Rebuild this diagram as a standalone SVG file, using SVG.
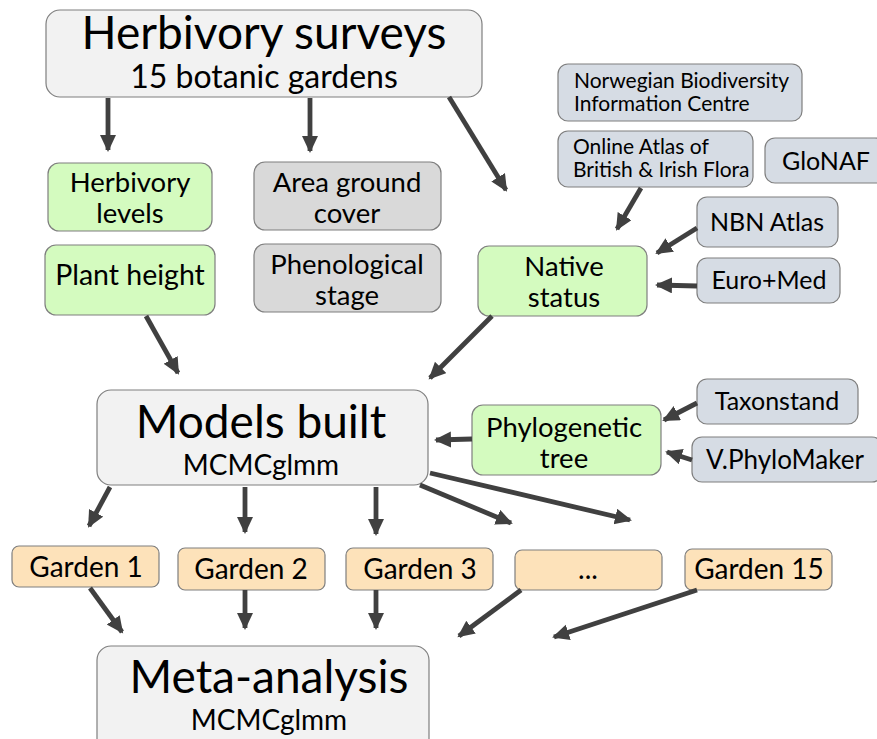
<svg xmlns="http://www.w3.org/2000/svg" width="877" height="739" viewBox="0 0 877 739">
<defs>
<marker id="ah" markerUnits="userSpaceOnUse" markerWidth="20" markerHeight="20" refX="15" refY="8" orient="auto">
<path d="M0,0 L17,8 L0,16 Z" fill="#404040"/>
</marker>
<style>
rect{stroke:#7f7f7f;stroke-width:1.2}
.main{fill:#f2f2f2}
.green{fill:#d4fbbf}
.gray{fill:#d9d9d9}
.blue{fill:#d6dce4}
.peach{fill:#fde2ba}
text{font-family:Lato,"Liberation Sans",sans-serif;fill:#000;text-anchor:middle}
.big{font-size:46px}
.sub{font-size:32px}
.n{font-size:27.5px}
.n1{font-size:28.5px}
.mc{font-size:28px}
.s{font-size:21px}
.m{font-size:25px}
.g{font-size:28px}
.l{text-anchor:start}
#connectors line{stroke:#404040;stroke-width:4.8;marker-end:url(#ah)}
</style>
</defs>
<g id="surveys"><rect class="main" x="46" y="10" width="436" height="87" rx="14"/>
<text class="big" x="264" y="48.5">Herbivory surveys</text>
<text class="sub" x="264" y="88">15 botanic gardens</text></g>
<g id="herblevels"><rect class="green" x="48" y="163" width="164" height="68" rx="11"/>
<text class="n" x="130" y="191.5">Herbivory</text><text class="n" x="130" y="222.5">levels</text></g>
<g id="plantheight"><rect class="green" x="45" y="245" width="170" height="70" rx="11"/>
<text class="n1" x="130" y="285">Plant height</text></g>
<g id="area"><rect class="gray" x="254" y="162" width="187" height="68" rx="11"/>
<text class="n" x="347" y="191.5">Area ground</text><text class="n" x="347" y="222.5">cover</text></g>
<g id="phenol"><rect class="gray" x="254" y="244" width="187" height="68" rx="11"/>
<text class="n" x="347" y="273.5">Phenological</text><text class="n" x="347" y="304.5">stage</text></g>
<g id="norwegian"><rect class="blue" x="558" y="64" width="244" height="57" rx="10"/>
<text class="s l" x="574" y="88">Norwegian Biodiversity</text><text class="s l" x="574" y="111">Information Centre</text></g>
<g id="online"><rect class="blue" x="558" y="131" width="195" height="56" rx="10"/>
<text class="s l" x="573" y="154">Online Atlas of</text><text class="s l" x="573" y="177">British &amp; Irish Flora</text></g>
<g id="glonaf"><rect class="blue" x="765" y="138" width="120" height="45" rx="10"/>
<text class="m" x="826" y="170">GloNAF</text></g>
<g id="nbn"><rect class="blue" x="697" y="197" width="141" height="50" rx="10"/>
<text class="m" x="767" y="231">NBN Atlas</text></g>
<g id="euromed"><rect class="blue" x="697" y="258" width="143" height="45" rx="10"/>
<text class="m" x="769" y="289">Euro+Med</text></g>
<g id="native"><rect class="green" x="478" y="246" width="169" height="70" rx="11"/>
<text class="n" x="564" y="275.5">Native</text><text class="n" x="564" y="306.5">status</text></g>
<g id="models"><rect class="main" x="97" y="390" width="331" height="95" rx="14"/>
<text class="big" x="261" y="438">Models built</text>
<text class="mc" x="261" y="475">MCMCglmm</text></g>
<g id="phylo"><rect class="green" x="472" y="405" width="189" height="70" rx="11"/>
<text class="n" x="564" y="437">Phylogenetic</text><text class="n" x="564" y="468">tree</text></g>
<g id="taxonstand"><rect class="blue" x="697" y="379" width="161" height="45" rx="10"/>
<text class="m" x="777" y="410">Taxonstand</text></g>
<g id="vphylo"><rect class="blue" x="692" y="437" width="190" height="45" rx="10"/>
<text class="m" x="785" y="469" style="font-size:26px">V.PhyloMaker</text></g>
<g id="garden1"><rect class="peach" x="12" y="546" width="147" height="41" rx="7"/>
<text class="g" x="86" y="577">Garden 1</text></g>
<g id="garden2"><rect class="peach" x="178" y="548" width="147" height="42" rx="7"/>
<text class="g" x="251" y="579">Garden 2</text></g>
<g id="garden3"><rect class="peach" x="346" y="548" width="147" height="42" rx="7"/>
<text class="g" x="420" y="579">Garden 3</text></g>
<g id="gardendots"><rect class="peach" x="515" y="550" width="147" height="40" rx="7"/>
<text class="g" x="588" y="579">...</text></g>
<g id="garden15"><rect class="peach" x="685" y="549" width="147" height="41" rx="7"/>
<text class="g" x="759" y="579">Garden 15</text></g>
<g id="meta"><rect class="main" x="97" y="646" width="332" height="110" rx="14"/>
<text class="big" x="269" y="693">Meta-analysis</text>
<text class="mc" x="269" y="730">MCMCglmm</text></g>
<g id="connectors">
<line x1="108" y1="98" x2="108" y2="150"/>
<line x1="310" y1="98" x2="310" y2="151"/>
<line x1="449" y1="97" x2="506" y2="190"/>
<line x1="641" y1="188" x2="617" y2="229"/>
<line x1="697" y1="228" x2="657" y2="253"/>
<line x1="697" y1="286" x2="657" y2="285"/>
<line x1="492" y1="316" x2="430" y2="378"/>
<line x1="146" y1="316" x2="178" y2="373"/>
<line x1="472" y1="439" x2="436" y2="440"/>
<line x1="697" y1="403" x2="664" y2="420"/>
<line x1="692" y1="460" x2="667" y2="452"/>
<line x1="110" y1="487" x2="89" y2="526"/>
<line x1="245" y1="487" x2="245" y2="532"/>
<line x1="376" y1="487" x2="376" y2="534"/>
<line x1="420" y1="485" x2="511" y2="523"/>
<line x1="430" y1="473" x2="630" y2="520"/>
<line x1="90" y1="588" x2="122" y2="632"/>
<line x1="245" y1="590" x2="245" y2="628"/>
<line x1="376" y1="590" x2="376" y2="628"/>
<line x1="521" y1="590" x2="459" y2="636"/>
<line x1="697" y1="590" x2="554" y2="637"/>
</g>
</svg>
